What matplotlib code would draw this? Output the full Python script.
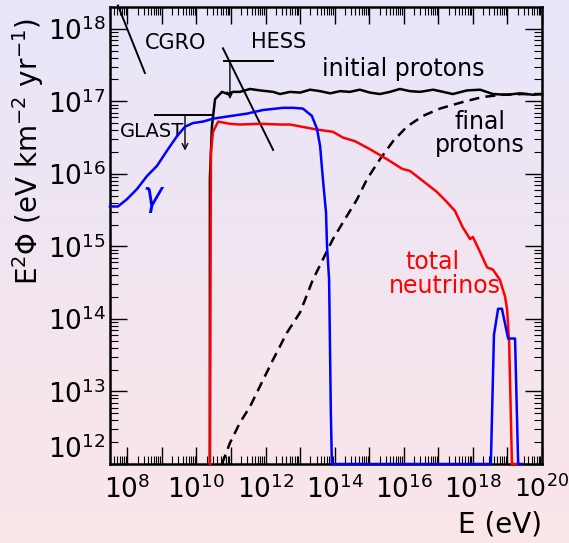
import numpy as np
import matplotlib.pyplot as plt
from matplotlib.ticker import LogLocator, FuncFormatter, NullFormatter

# all values are log10(E/eV) and log10(E^2 Phi / eV km^-2 yr^-1)
proton_logE = [10.39, 10.39, 10.45, 10.54, 10.74, 10.91, 11.06, 11.26, 11.55, 11.84,
               12.22, 12.42, 12.71, 13.00, 13.29, 13.58, 13.87, 14.16, 14.44, 14.73,
               15.02, 15.31, 15.60, 15.89, 16.18, 16.47, 16.85, 17.14, 17.42, 17.83,
               18.21, 18.58, 18.99, 19.36, 19.74, 20.00]
proton_logF = [12.00, 15.93, 16.66, 17.03, 17.13, 17.10, 17.13, 17.13, 17.17, 17.15,
               17.13, 17.10, 17.13, 17.12, 17.16, 17.14, 17.11, 17.14, 17.13, 17.16,
               17.12, 17.10, 17.13, 17.17, 17.14, 17.13, 17.16, 17.13, 17.10, 17.15,
               17.16, 17.10, 17.09, 17.11, 17.09, 17.10]

final_logE = [10.74, 10.97, 11.26, 11.55, 11.93, 12.22, 12.62, 13.00, 13.37, 13.66,
              13.95, 14.24, 14.65, 14.94, 15.31, 15.69, 16.09, 16.56, 17.05, 17.71,
              18.29, 18.87, 19.45, 20.00]
final_logF = [12.00, 12.29, 12.57, 12.79, 13.16, 13.44, 13.81, 14.09, 14.54, 14.82,
              15.10, 15.33, 15.65, 15.93, 16.20, 16.45, 16.65, 16.80, 16.90, 16.99,
              17.06, 17.09, 17.10, 17.10]

nu_logE = [10.39, 10.42, 10.48, 10.63, 10.97, 11.26, 11.84, 12.42, 12.71, 13.49,
           13.95, 14.24, 14.59, 15.02, 15.52, 15.95, 16.18, 16.56, 16.96, 17.25,
           17.48, 17.71, 17.92, 18.00, 18.21, 18.41, 18.58, 18.78, 18.93, 18.99,
           19.05, 19.13, 19.28]
nu_logF = [12.00, 16.30, 16.58, 16.72, 16.69, 16.68, 16.69, 16.68, 16.68, 16.61,
           16.58, 16.50, 16.45, 16.34, 16.20, 16.07, 16.04, 15.90, 15.75, 15.61,
           15.49, 15.26, 15.10, 15.13, 14.92, 14.71, 14.68, 14.54, 14.31, 14.13,
           13.67, 12.00, 12.00]

gamma_logE = [7.50, 7.73, 7.99, 8.28, 8.57, 8.86, 9.15, 9.44, 9.67, 9.90,
              10.19, 10.48, 10.89, 11.46, 11.93, 12.51, 12.80, 13.08, 13.34, 13.49,
              13.58, 13.66, 13.75, 13.78, 13.84, 13.89, 13.92, 18.52, 18.61, 18.73,
              18.84, 19.02, 19.22, 19.31, 19.42]
gamma_logF = [15.55, 15.55, 15.65, 15.79, 15.97, 16.11, 16.32, 16.52, 16.65, 16.70,
              16.72, 16.76, 16.79, 16.83, 16.88, 16.91, 16.91, 16.90, 16.80, 16.62,
              16.38, 15.93, 15.47, 15.00, 14.54, 12.71, 12.00, 12.00, 13.78, 14.14,
              14.14, 13.73, 13.73, 12.00, 12.00]

# experimental limits
cgro_logE, cgro_logF = [7.73, 8.51], [18.32, 17.39]
hess_logE, hess_logF = [10.77, 12.22], [17.73, 16.33]
hess_lim_logE, hess_lim_logF = [10.80, 12.22], 17.55
glast_lim_logE, glast_lim_logF = [8.80, 10.48], 16.81

W, H = 569, 543
fig = plt.figure(figsize=(W / 100, H / 100), dpi=100)

# soft lavender-to-pink background
bg = fig.add_axes([0, 0, 1, 1], zorder=0)
top = np.array([232, 230, 250]) / 255
bot = np.array([251, 229, 232]) / 255
t = np.linspace(0, 1, 256)[:, None, None]
grad = top * (1 - t) + bot * t
bg.imshow(np.repeat(grad, 2, axis=1), aspect='auto', extent=[0, 1, 0, 1])
bg.axis('off')

ax = fig.add_axes([110 / W, 1 - 464 / H, 432 / W, 457 / H], zorder=1)
ax.patch.set_alpha(0)
ax.set_xscale('log')
ax.set_yscale('log')
ax.set_xlim(10 ** 7.5, 1e20)
ax.set_ylim(1e12, 10 ** 18.3)

p = lambda a: 10 ** np.asarray(a)
lw = 1.8
ax.plot(p(proton_logE), p(proton_logF), color='black', lw=lw, zorder=4, clip_on=False)
ax.plot(p(final_logE), p(final_logF), color='black', lw=lw, dashes=(4, 2.5), zorder=3)
ax.plot(p(nu_logE), p(nu_logF), color='red', lw=lw, zorder=5, clip_on=False)
ax.plot(p(gamma_logE), p(gamma_logF), color='blue', lw=lw, zorder=6, clip_on=False)

ax.plot(p(cgro_logE), p(cgro_logF), color='black', lw=1.4, clip_on=False)
ax.plot(p(hess_logE), p(hess_logF), color='black', lw=1.4)
ax.plot(p(hess_lim_logE), [p(hess_lim_logF)] * 2, color='black', lw=1.4)
ax.plot(p(glast_lim_logE), [p(glast_lim_logF)] * 2, color='black', lw=1.4)
arrow = dict(arrowstyle='->', lw=1.0, color='black', shrinkA=0, shrinkB=0, mutation_scale=10)
ax.annotate('', xy=(p(10.97), p(17.03)), xytext=(p(10.97), p(hess_lim_logF)), arrowprops=arrow)
ax.annotate('', xy=(p(9.67), p(16.32)), xytext=(p(9.67), p(glast_lim_logF)), arrowprops=arrow)

ax.text(p(9.41), p(17.81), 'CGRO', fontsize=15, ha='center', va='center')
ax.text(p(12.39), p(17.82), 'HESS', fontsize=15, ha='center', va='center')
ax.text(p(8.72), p(16.59), 'GLAST', fontsize=14, ha='center', va='center')
ax.text(p(15.98), p(17.45), 'initial protons', fontsize=17, ha='center', va='center')
ax.text(p(18.21), p(16.56), 'final\nprotons', fontsize=17, ha='center', va='center',
        linespacing=0.95)
ax.text(p(16.82), p(14.79), 'total', fontsize=17, ha='center', va='center', color='red')
ax.text(p(17.19), p(14.45), 'neutrinos', fontsize=17, ha='center', va='center', color='red')
ax.text(p(8.77), p(15.66), r'$\gamma$', fontsize=24, ha='center', va='center', color='blue')

# ticks on all four sides, pointing inwards
ax.xaxis.set_major_locator(LogLocator(base=10, subs=(1.0,), numticks=30))
ax.xaxis.set_minor_locator(LogLocator(base=10, subs=np.arange(2, 10), numticks=30))
ax.yaxis.set_major_locator(LogLocator(base=10, subs=(1.0,), numticks=30))
ax.yaxis.set_minor_locator(LogLocator(base=10, subs=np.arange(2, 10), numticks=30))


def decade(v, pos, step=1):
    e = int(round(np.log10(v)))
    return r'$10^{%d}$' % e if e % step == 0 else ''


ax.xaxis.set_major_formatter(FuncFormatter(lambda v, pos: decade(v, pos, 2)))
ax.yaxis.set_major_formatter(FuncFormatter(decade))
ax.xaxis.set_minor_formatter(NullFormatter())
ax.yaxis.set_minor_formatter(NullFormatter())
ax.tick_params(which='both', direction='in', top=True, right=True, labelsize=19)
ax.tick_params(which='major', length=12, width=1.0)
ax.tick_params(which='minor', length=6, width=0.8)
ax.tick_params(axis='x', pad=8)
ax.tick_params(axis='y', pad=3)
for s in ax.spines.values():
    s.set_linewidth(1.8)

# lift the lowest y label off the corner, keep the last x label inside the figure
fig.canvas.draw()
for lbl in ax.get_yticklabels():
    if lbl.get_text() == '$10^{12}$':
        lbl.set_va('bottom')
for lbl in ax.get_xticklabels():
    if lbl.get_text() == '$10^{20}$':
        lbl.set_fontsize(18)

fig.text(28 / W, 1 - 152 / H, r'E$^2\Phi$ (eV km$^{-2}$ yr$^{-1}$)', rotation=90,
         ha='center', va='center', fontsize=20)
fig.text(542 / W, 1 - 524 / H, 'E (eV)', ha='right', va='center', fontsize=20)

fig.savefig('out.png', dpi=100)
